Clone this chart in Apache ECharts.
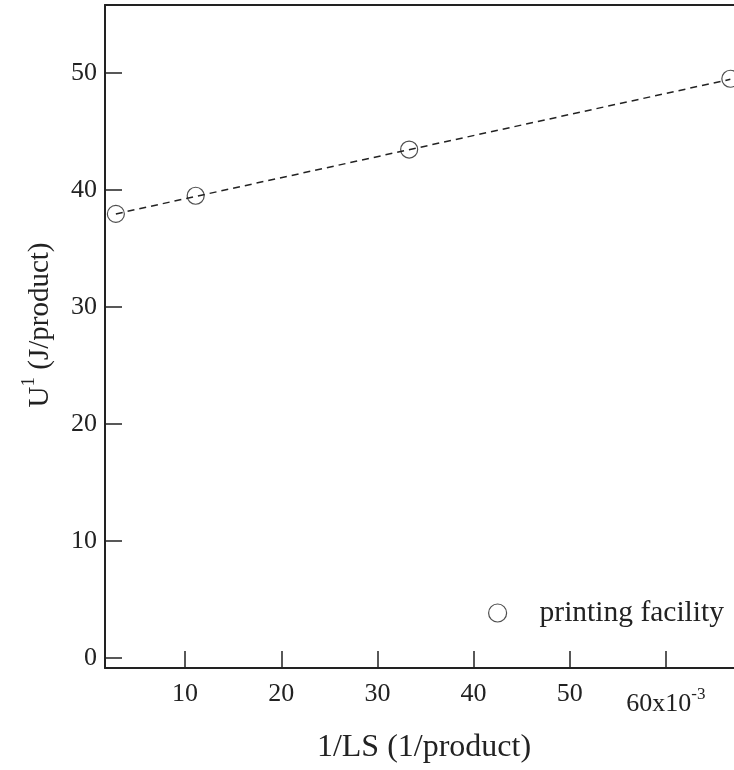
<!DOCTYPE html>
<html><head><meta charset="utf-8">
<script src="https://cdn.jsdelivr.net/npm/echarts@6/dist/echarts.min.js"></script>
<style>html,body{margin:0;padding:0;background:#fff}#c{width:734px;height:770px}</style>
</head><body><div id="c"></div>
<script>
const xTicks = [10, 20, 30, 40, 50, 60];
const yTicks = [0, 10, 20, 30, 40, 50];
const xVals = [2.8, 11.1, 33.3, 66.7];
const yVals = [37.95, 39.5, 43.45, 49.5];
const fitX = [2.8, 66.7];
const fitY = [37.95, 49.45];
const seriesName = 'printing facility';

const FONT = '"Liberation Serif", "DejaVu Serif", serif';
const INK = '#222';
const chart = echarts.init(document.getElementById('c'));
const xMin = 1.67, xMax = 67.08, yMin = -0.85, yMax = 55.8;
chart.setOption({
  animation: false,
  grid: {left: 105, right: 0, top: 5, bottom: 102},
  legend: {
    left: 483, top: 593, itemWidth: 18, itemHeight: 18,
    data: [{name: seriesName, icon: 'circle'}],
    itemStyle: {color: 'rgba(255,255,255,0)', borderColor: INK, borderWidth: 1.2},
    textStyle: {fontFamily: FONT, fontSize: 29.5, color: INK, padding: [0, 0, 0, 28]}
  },
  xAxis: [{
    type: 'value', position: 'bottom', min: xMin, max: xMax,
    splitLine: {show: false},
    axisLine: {onZero: false, lineStyle: {color: INK, width: 2}},
    axisTick: {inside: true, length: 17, customValues: xTicks, lineStyle: {color: INK, width: 1.5}},
    axisLabel: {
      customValues: xTicks, margin: 13, fontFamily: FONT, fontSize: 26, color: INK,
      formatter: v => v === 60 ? '{b|60x10}{s|-3}' : String(v),
      rich: {b: {fontFamily: FONT, fontSize: 26, color: INK, padding: [10, 0, 0, 0]},
             s: {fontFamily: FONT, fontSize: 17, color: INK, padding: [0, 0, 8, 0]}}
    }
  }, {
    type: 'value', position: 'top', min: xMin, max: xMax,
    splitLine: {show: false}, axisTick: {show: false}, axisLabel: {show: false},
    axisLine: {onZero: false, lineStyle: {color: INK, width: 2}}
  }],
  yAxis: {
    type: 'value', min: yMin, max: yMax,
    splitLine: {show: false},
    axisLine: {onZero: false, lineStyle: {color: INK, width: 2}},
    axisTick: {inside: true, length: 17, customValues: yTicks, lineStyle: {color: INK, width: 1.5}},
    axisLabel: {customValues: yTicks, margin: 8, fontFamily: FONT, fontSize: 26, color: INK}
  },
  graphic: [
    {type: 'text', x: 424, y: 748,
     style: {text: '1/LS (1/product)', font: '32px ' + FONT, fill: INK, align: 'center', verticalAlign: 'middle'}},
    {type: 'text', x: 35, y: 325, rotation: Math.PI / 2,
     style: {text: '{u|U}{s|1}{u| (J/product)}', align: 'center', verticalAlign: 'middle',
       rich: {u: {fontFamily: FONT, fontSize: 29, fill: INK, padding: [10, 0, 0, 0]},
              s: {fontFamily: FONT, fontSize: 19, fill: INK, padding: [0, 0, 12, 0]}}}}
  ],
  series: [{
    name: 'fit', type: 'line', data: fitX.map((x, i) => [x, fitY[i]]),
    symbol: 'none', lineStyle: {color: INK, width: 1.5, type: [7, 5]}, z: 1
  }, {
    name: seriesName, type: 'scatter', data: xVals.map((x, i) => [x, yVals[i]]),
    symbol: 'circle', symbolSize: 17,
    itemStyle: {color: 'rgba(255,255,255,0)', borderColor: INK, borderWidth: 1.2}, z: 2
  }]
});
</script></body></html>
